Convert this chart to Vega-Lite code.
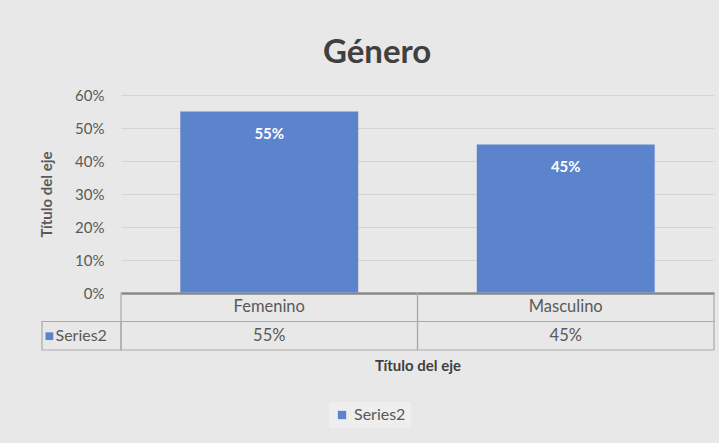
{
  "$schema": "https://vega.github.io/schema/vega-lite/v6.json",
  "background": "#e8e8e8",
  "padding": {"left": 39, "top": 37, "right": 4, "bottom": 15},
  "title": {"text": "Género", "fontSize": 33, "fontWeight": "bold", "color": "#404040", "anchor": "middle", "offset": 18, "font": "Lato"},
  "columns": 2,
  "spacing": 0,
  "bounds": "flush",
  "datasets": {
    "genero": [
      {"genero": "Femenino", "valor": 0.55, "serie": "Series2"},
      {"genero": "Masculino", "valor": 0.45, "serie": "Series2"}
    ]
  },
  "concat": [
    {
      "width": 79,
      "height": 198,
      "data": {"values": [{}]},
      "mark": {"type": "text", "text": ""},
      "encoding": {}
    },
    {
      "width": 593,
      "height": 198,
      "data": {"name": "genero"},
      "encoding": {
        "x": {
          "field": "genero", "type": "nominal", "sort": null,
          "scale": {"paddingInner": 0.4, "paddingOuter": 0.2},
          "axis": {"title": null, "labels": false, "ticks": false, "grid": false, "domain": true, "domainColor": "#5f5f5f", "domainWidth": 2}
        },
        "y": {
          "field": "valor", "type": "quantitative",
          "scale": {"domain": [0, 0.6]},
          "axis": {
            "values": [0, 0.1, 0.2, 0.3, 0.4, 0.5, 0.6], "format": ".0%",
            "title": "Título del eje", "titleFontSize": 15, "titleFontWeight": "bold", "titleColor": "#595959", "titlePadding": 20,
            "labelFontSize": 15, "labelColor": "#595959", "labelPadding": 17,
            "ticks": false, "domain": false, "grid": true, "gridColor": "#d4d4d4", "gridWidth": 1
          }
        }
      },
      "layer": [
        {
          "mark": {"type": "bar", "color": "#5b84cc"},
          "encoding": {
            "color": {
              "field": "serie", "type": "nominal",
              "scale": {"range": ["#5b84cc"]},
              "legend": {
                "title": null, "orient": "none", "legendX": 287, "legendY": 307,
                "symbolType": "square", "symbolSize": 70, "symbolStrokeWidth": 0,
                "labelFontSize": 16, "labelColor": "#595959", "labelOffset": 4,
                "fillColor": "#eeeeee", "padding": 5
              }
            }
          }
        },
        {
          "mark": {"type": "text", "baseline": "middle", "dy": 22, "color": "white", "fontWeight": "bold", "fontSize": 15},
          "encoding": {"text": {"field": "valor", "type": "quantitative", "format": ".0%"}}
        }
      ]
    },
    {
      "width": 79,
      "height": 57,
      "data": {"name": "genero"},
      "transform": [{"filter": "datum.genero === 'Femenino'"}],
      "encoding": {
        "y": {"field": "serie", "type": "nominal", "scale": {"domain": ["cab", "Series2"], "paddingInner": 0, "paddingOuter": 0}, "axis": null}
      },
      "layer": [
        {"mark": {"type": "rect", "filled": false, "stroke": "#ababab", "strokeWidth": 1.2}},
        {"mark": {"type": "text", "text": "■", "color": "#5b84cc", "fontSize": 10, "align": "left", "dx": -37, "font": "DejaVu Sans"}},
        {"mark": {"type": "text", "align": "left", "dx": -26, "fontSize": 16, "color": "#595959"}, "encoding": {"text": {"field": "serie"}}}
      ]
    },
    {
      "width": 593,
      "height": 57,
      "data": {"name": "genero"},
      "encoding": {
        "x": {
          "field": "genero", "type": "nominal", "sort": null,
          "scale": {"paddingInner": 0, "paddingOuter": 0},
          "axis": {"title": "Título del eje", "titleFontSize": 15, "titleFontWeight": "bold", "titleColor": "#404040", "titlePadding": 8, "labels": false, "ticks": false, "domain": false, "grid": false}
        }
      },
      "layer": [
        {"mark": {"type": "rect", "filled": false, "stroke": "#ababab", "strokeWidth": 1.2}, "encoding": {"y": {"datum": "cab", "type": "nominal", "scale": {"domain": ["cab", "Series2"], "paddingInner": 0, "paddingOuter": 0}, "axis": null}}},
        {"mark": {"type": "rect", "filled": false, "stroke": "#ababab", "strokeWidth": 1.2}, "encoding": {"y": {"datum": "Series2", "type": "nominal"}}},
        {"mark": {"type": "text", "fontSize": 16.5, "color": "#595959"}, "encoding": {"y": {"datum": "cab", "type": "nominal"}, "text": {"field": "genero"}}},
        {"mark": {"type": "text", "fontSize": 16.5, "color": "#595959"}, "encoding": {"y": {"datum": "Series2", "type": "nominal"}, "text": {"field": "valor", "type": "quantitative", "format": ".0%"}}}
      ]
    }
  ],
  "config": {
    "font": "Lato",
    "view": {"stroke": null}
  }
}
